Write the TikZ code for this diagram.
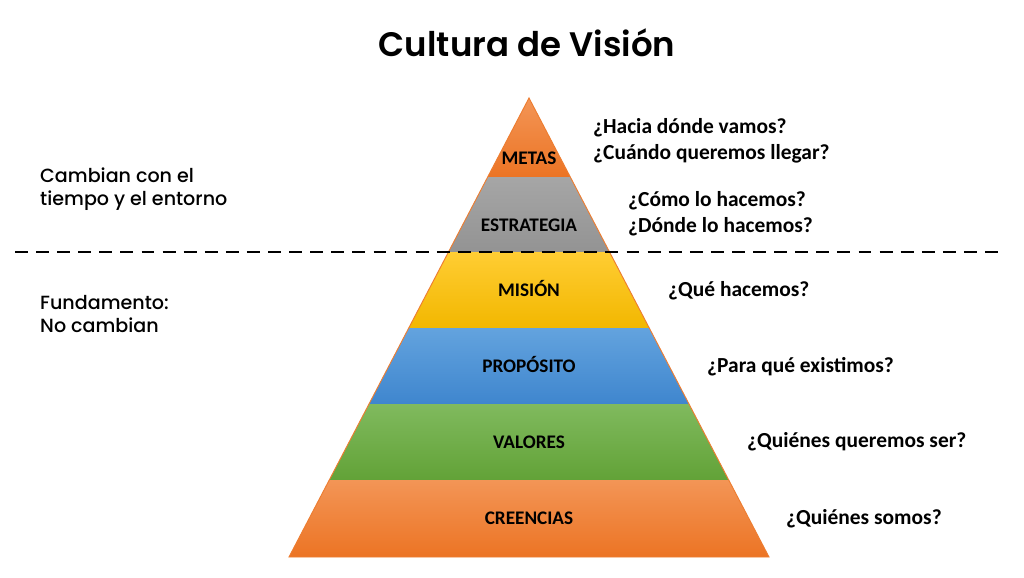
\documentclass[tikz,border=0pt]{standalone}
\usepackage{fontspec}
\setmainfont{Carlito}
\newfontfamily\titulofont{Poppins}[UprightFont=* Medium, BoldFont=* SemiBold]
\usetikzlibrary{positioning}

% Colores de las capas (arriba / abajo del degradado)
\definecolor{naranjaA}{HTML}{F39556}
\definecolor{naranjaB}{HTML}{EC7424}
\definecolor{grisA}{HTML}{A6A6A6}
\definecolor{grisB}{HTML}{939393}
\definecolor{amarilloA}{HTML}{FFCD33}
\definecolor{amarilloB}{HTML}{F2B700}
\definecolor{azulA}{HTML}{63A3DE}
\definecolor{azulB}{HTML}{3F86CE}
\definecolor{verdeA}{HTML}{80BA5E}
\definecolor{verdeB}{HTML}{62A237}
\definecolor{borde}{HTML}{ED7D31}

\tikzset{
  etiqueta/.style={font=\bfseries\fontsize{16.4}{19}\selectfont, anchor=base, inner sep=0pt},
  pregunta/.style={font=\bfseries\fontsize{18.3}{22}\selectfont, anchor=base west, inner sep=0pt},
  nota/.style={font=\titulofont\fontsize{16.3}{20}\selectfont, anchor=west, align=left, inner sep=0pt},
  corte/.style={line width=2.4pt, dash pattern=on 11pt off 7pt},
}

\begin{document}
\begin{tikzpicture}[x=0.03cm, y=-0.03cm]
  \useasboundingbox (0,0) rectangle (1024,577);

  % Parámetros de la pirámide (en píxeles)
  \def\xc{529}    % eje
  \def\ytop{98}   % vértice
  \def\ybase{557} % base
  \def\semib{240} % semibase

  % Capas: y superior / y inferior / y del texto / colores / nombre / texto
  \foreach \ya/\yb/\yt/\ca/\cb/\nombre/\texto in {
      98/177/158/naranjaA/naranjaB/metas/METAS,
      177/252/225/grisA/grisB/estrategia/ESTRATEGIA,
      252/328/290/amarilloA/amarilloB/mision/MISIÓN,
      328/404/366/azulA/azulB/proposito/PROPÓSITO,
      404/480/442/verdeA/verdeB/valores/VALORES,
      480/557/518/naranjaA/naranjaB/creencias/CREENCIAS} {
    \pgfmathsetmacro{\wa}{(\ya-\ytop)/(\ybase-\ytop)*\semib}
    \pgfmathsetmacro{\wb}{(\yb-\ytop)/(\ybase-\ytop)*\semib}
    \shade[top color=\ca, bottom color=\cb]
      (\xc-\wa,\ya) -- (\xc+\wa,\ya) -- (\xc+\wb,\yb) -- (\xc-\wb,\yb) -- cycle;
    \node[etiqueta] (\nombre) at (\xc,\yt+6) {\texto};
  }

  % Contorno de la pirámide
  \draw[borde, line width=0.8pt] (\xc,\ytop) -- (\xc+\semib,\ybase) -- (\xc-\semib,\ybase) -- cycle;

  % Línea de corte entre lo que cambia y lo que no
  \coordinate (corteI) at (15,252);
  \coordinate (corteD) at (1005,252);
  \draw[corte] (corteI) -- (corteD);

  % Título
  \node[font=\titulofont\bfseries\fontsize{29}{34}\selectfont] (titulo) at (527,43) {Cultura de Visión};

  % Notas de la izquierda
  \node[nota] (cambian) at (40,189) {Cambian con el\\tiempo y el entorno};
  \node[nota] (fundamento) at (40,314) {Fundamento:\\No cambian};

  % Preguntas de la derecha
  \node[pregunta] (hacia) at (593,133) {¿Hacia dónde vamos?};
  \node[pregunta] (cuando) at (593,159) {¿Cuándo queremos llegar?};
  \node[pregunta] (como) at (628,206) {¿Cómo lo hacemos?};
  \node[pregunta] (donde) at (628,232) {¿Dónde lo hacemos?};
  \node[pregunta] (que) at (668,296) {¿Qué hacemos?};
  \node[pregunta] (para) at (707,372) {¿Para qué existimos?};
  \node[pregunta] (quienes) at (747,447) {¿Quiénes queremos ser?};
  \node[pregunta] (somos) at (786,524) {¿Quiénes somos?};
\end{tikzpicture}
\end{document}
